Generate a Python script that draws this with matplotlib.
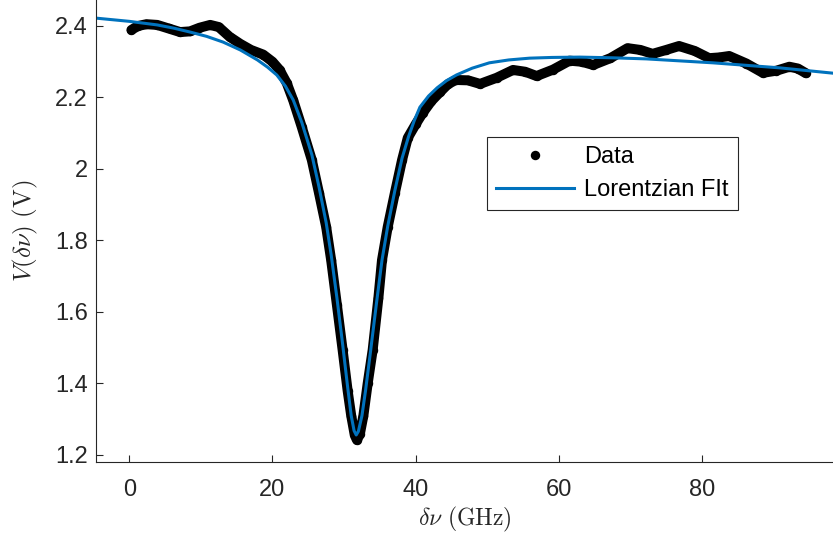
import matplotlib
matplotlib.use('Agg')
import matplotlib.pyplot as plt

# Data (GHz, V)
data_x = [0.3, 1.2, 2.4, 3.9, 5.5, 7.1, 8.5, 9.8, 11.3, 12.5, 14.0, 15.5, 17.0,
          18.7, 20.0, 21.0, 22.0, 22.9, 24.1, 25.5, 26.5, 27.5, 28.2, 29.0,
          29.8, 30.5, 31.0, 31.5, 31.8, 32.2, 32.7, 33.3, 34.0, 34.8, 35.3,
          36.1, 37.1, 38.1, 38.9, 40.0, 41.0, 42.2, 43.4, 44.5, 45.6, 47.3,
          49.0, 51.3, 53.6, 55.3, 56.9, 59.2, 61.5, 63.2, 64.8, 67.2, 69.6,
          71.4, 73.1, 75.0, 76.8, 79.0, 81.0, 82.4, 83.8, 86.2, 88.5, 90.4,
          92.2, 93.4, 94.5]
data_v = [2.389, 2.400, 2.405, 2.403, 2.393, 2.383, 2.385, 2.395, 2.403, 2.397,
          2.370, 2.350, 2.333, 2.320, 2.300, 2.277, 2.240, 2.192, 2.117, 2.025,
          1.933, 1.838, 1.745, 1.620, 1.494, 1.380, 1.310, 1.255, 1.242, 1.258,
          1.310, 1.400, 1.494, 1.640, 1.745, 1.838, 1.933, 2.025, 2.087, 2.125,
          2.157, 2.190, 2.215, 2.237, 2.249, 2.248, 2.238, 2.255, 2.277, 2.272,
          2.260, 2.278, 2.303, 2.300, 2.291, 2.310, 2.338, 2.333, 2.322, 2.333,
          2.344, 2.330, 2.310, 2.312, 2.316, 2.295, 2.269, 2.275, 2.286, 2.281,
          2.268]

fit_x = [-4.65, 0.0, 3.9, 6.2, 8.5, 10.8, 13.1, 15.5, 17.9, 19.3, 20.6, 21.8,
         22.9, 24.1, 25.5, 26.5, 27.5, 28.2, 29.0, 29.8, 30.5, 31.0, 31.4, 31.7,
         32.0, 32.5, 33.0, 33.7, 34.5, 35.3, 36.1, 37.1, 38.1, 39.0, 39.8, 40.6,
         41.8, 43.0, 44.3, 45.7, 47.9, 50.3, 53.0, 55.9, 59.0, 62.9, 67.5, 72.2,
         81.5, 90.8, 98.3]
fit_v = [2.422, 2.413, 2.403, 2.394, 2.383, 2.371, 2.355, 2.333, 2.305, 2.285,
         2.263, 2.232, 2.193, 2.130, 2.040, 1.950, 1.850, 1.760, 1.640, 1.510,
         1.390, 1.310, 1.268, 1.256, 1.266, 1.310, 1.380, 1.490, 1.620, 1.745,
         1.840, 1.940, 2.030, 2.090, 2.135, 2.173, 2.204, 2.227, 2.247, 2.263,
         2.282, 2.297, 2.305, 2.310, 2.312, 2.313, 2.311, 2.308, 2.297, 2.283,
         2.268]

x_ticks = [0, 20, 40, 60, 80]
y_ticks = [1.2, 1.4, 1.6, 1.8, 2.0, 2.2, 2.4]
y_labels = ['1.2', '1.4', '1.6', '1.8', '2', '2.2', '2.4']

plt.rcParams['font.family'] = ['Liberation Sans', 'DejaVu Sans']
plt.rcParams['mathtext.fontset'] = 'cm'

grey = '#262626'
fig = plt.figure(figsize=(8.33, 5.38), dpi=100)
ax = fig.add_axes([96 / 833, 76 / 538, 737 / 833, 462 / 538])

# Data: thick black band of dots
ax.plot(data_x, data_v, '-', color='k', lw=7.2, solid_capstyle='round',
        solid_joinstyle='round', label='_nolegend_')
ax.plot(data_x, data_v, 'o', color='k', ms=6.8, mew=0, lw=0, label='Data')

# Lorentzian fit
ax.plot(fit_x, fit_v, '-', color='#0072BD', lw=2.2, solid_joinstyle='round',
        label='Lorentzian FIt')

ax.set_xlim(-4.65, 98.3)
ax.set_ylim(1.1804, 2.4727)
ax.set_xticks(x_ticks)
ax.set_yticks(y_ticks)
ax.set_yticklabels(y_labels)

for s in ['top', 'right']:
    ax.spines[s].set_visible(False)
for s in ['left', 'bottom']:
    ax.spines[s].set_color(grey)
    ax.spines[s].set_linewidth(0.8)

ax.tick_params(direction='in', length=5, width=0.8, color=grey,
               labelcolor=grey, labelsize=17)
ax.tick_params(axis='x', pad=12)
ax.tick_params(axis='y', pad=6)

ax.set_xlabel(r'$\delta\nu\ \mathrm{(GHz)}$', fontsize=17, color=grey, labelpad=3)
ax.set_ylabel(r'$V(\delta\nu)\ \mathrm{(V)}$', fontsize=18, color=grey, labelpad=11)

leg = ax.legend(loc='upper left', bbox_to_anchor=(0.5305, 0.7035),
                borderaxespad=0, fontsize=17, fancybox=False, framealpha=1,
                edgecolor=grey, handlelength=3.3, handletextpad=0.4,
                borderpad=0.4, labelspacing=0.45)
leg.get_frame().set_linewidth(0.8)

fig.savefig('out.png', dpi=100)
